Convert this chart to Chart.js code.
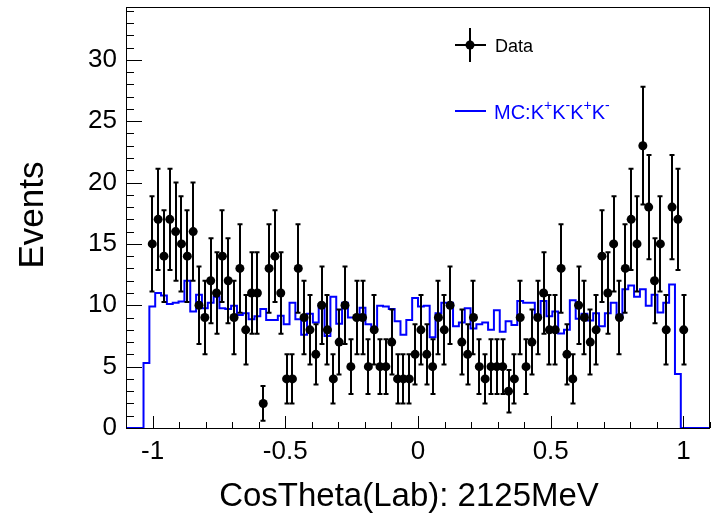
<!DOCTYPE html>
<html><head><meta charset="utf-8">
<script src="https://cdn.jsdelivr.net/npm/chart.js@4/dist/chart.umd.min.js"></script>
<style>html,body{margin:0;padding:0;background:#fff;}</style>
</head><body>
<canvas id="c" width="715" height="516"></canvas>
<script>
// ---- histogram definition ----
const binLow = -1.1, binHigh = 1.1, nBins = 100;
// data counts per bin (bins 0..99)
const dataCounts = [
 0,0,0,0,
 15,17,14,17,16,15,14,16,10,9,12,11,14,12,9,13,
 8,11,11,2,13,14,11,4,4,13,9,8,6,10,8,4,
 7,10,5,9,9,5,8,5,5,7,4,4,4,6,8,6,
 5,9,8,10,0,7,6,9,5,4,5,5,5,3,4,9,
 5,7,9,11,8,8,13,6,4,10,9,7,8,14,11,15,
 9,13,17,15,23,18,12,15,8,18,17,8,
 0,0,0,0
];
// MC K+K-K+K- per bin (bins 0..99)
const mcCounts = [
 0,0,0,0,
 5.3,9.9,11.0,10.8,10.1,10.2,10.3,12.0,9.5,10.85,9.75,10.2,10.7,9.75,9.7,9.95,
 9.2,9.35,8.85,9.1,9.7,8.8,8.8,9.15,8.45,10.2,8.85,7.6,9.3,8.6,10.1,7.5,
 10.7,8.5,10.2,9.0,9.0,9.8,8.45,8.2,9.95,9.9,9.7,8.7,7.6,8.8,10.6,9.9,
 9.95,7.4,9.35,10.2,10.2,8.3,8.6,9.75,8.1,8.45,8.6,8.0,9.6,7.85,8.7,8.4,
 10.35,10.2,10.2,9.0,10.35,9.1,9.5,7.7,8.0,10.4,8.9,9.3,8.75,9.35,8.3,9.35,
 10.2,9.0,11.3,11.6,10.7,11.3,9.95,10.85,9.4,10.2,11.7,4.4,
 0,0,0,0
];
const xTickValues = [-1, -0.5, 0, 0.5, 1];
const yTickValues = [0, 5, 10, 15, 20, 25, 30];
const yMax = 34.3;
const xTitle = 'CosTheta(Lab): 2125MeV';
const yTitle = 'Events';
const legendDataLabel = 'Data';
const legendMcParts = [['MC:K',''],['+','sup'],['K',''],['-','sup'],['K',''],['+','sup'],['K',''],['-','sup']];

// ---- derived tables for the library ----
const binW = (binHigh - binLow) / nBins;
const mcPoints = [];
for (let i = 0; i < nBins; i++) mcPoints.push({x: binLow + i * binW, y: mcCounts[i]});
mcPoints.push({x: binHigh, y: 0});
const dataPoints = [];
for (let i = 0; i < nBins; i++) if (dataCounts[i] > 0) dataPoints.push({x: binLow + (i + 0.5) * binW, y: dataCounts[i]});

const FONT = '"Liberation Sans", Arial, Helvetica, sans-serif';

const rootPlugin = {
  id: 'rootStyle',
  beforeDatasetDraw(chart, args) {
    if (args.index !== 1) return;
    const ctx = chart.ctx, xs = chart.scales.x, ys = chart.scales.y;
    ctx.save();
    ctx.strokeStyle = '#000'; ctx.lineWidth = 2;
    dataPoints.forEach(p => {
      const e = Math.sqrt(p.y);
      const px = Math.round(xs.getPixelForValue(p.x));
      const y1 = ys.getPixelForValue(p.y + e), y2 = ys.getPixelForValue(p.y - e);
      ctx.beginPath();
      ctx.moveTo(px, y1); ctx.lineTo(px, y2);
      ctx.moveTo(px - 2.5, y1); ctx.lineTo(px + 2.5, y1);
      ctx.moveTo(px - 2.5, y2); ctx.lineTo(px + 2.5, y2);
      ctx.stroke();
    });
    ctx.restore();
  },
  afterDraw(chart) {
    const ctx = chart.ctx, xs = chart.scales.x, ys = chart.scales.y, a = chart.chartArea;
    ctx.save();
    // frame
    ctx.strokeStyle = '#000'; ctx.lineWidth = 1;
    ctx.strokeRect(Math.round(a.left) + 0.5, Math.round(a.top) + 0.5, Math.round(a.right - a.left) - 1, Math.round(a.bottom - a.top));
    // y ticks (inward)
    ctx.beginPath();
    for (let v = 0; v <= yMax + 1e-9; v += 1) {
      const py = Math.round(ys.getPixelForValue(v)) + 0.5;
      const len = (v % 5 === 0) ? 16 : 8;
      ctx.moveTo(a.left, py); ctx.lineTo(a.left + len, py);
    }
    // x ticks (inward)
    for (let k = -11; k <= 11; k++) {
      const v = k / 10;
      const px = Math.round(xs.getPixelForValue(v)) + 0.5;
      const len = (k % 5 === 0) ? 12 : 6;
      ctx.moveTo(px, a.bottom); ctx.lineTo(px, a.bottom - len);
    }
    ctx.stroke();
    // titles
    ctx.fillStyle = '#000';
    ctx.font = '33px ' + FONT;
    ctx.textAlign = 'center'; ctx.textBaseline = 'alphabetic';
    ctx.fillText(xTitle, 409, 506);
    ctx.save();
    ctx.font = '35px ' + FONT;
    ctx.translate(43, 215); ctx.rotate(-Math.PI / 2);
    ctx.fillText(yTitle, 0, 0);
    ctx.restore();
    // legend: Data
    ctx.lineWidth = 2;
    ctx.beginPath();
    ctx.moveTo(470, 28); ctx.lineTo(470, 62);
    ctx.moveTo(455, 45); ctx.lineTo(486, 45);
    ctx.stroke();
    ctx.beginPath(); ctx.arc(470, 45, 4.5, 0, Math.PI * 2); ctx.fill();
    ctx.font = '18px ' + FONT; ctx.textAlign = 'left'; ctx.textBaseline = 'alphabetic';
    ctx.fillText(legendDataLabel, 495, 52);
    // legend: MC
    ctx.strokeStyle = '#0000ff'; ctx.fillStyle = '#0000ff';
    ctx.beginPath(); ctx.moveTo(455, 111); ctx.lineTo(486, 111); ctx.stroke();
    let x = 494;
    legendMcParts.forEach(([t, kind]) => {
      if (kind === 'sup') { ctx.font = '14px ' + FONT; ctx.fillText(t, x, 110); }
      else { ctx.font = '20px ' + FONT; ctx.fillText(t, x, 119); }
      x += ctx.measureText(t).width;
    });
    ctx.restore();
  }
};

new Chart(document.getElementById('c'), {
  data: {
    datasets: [
      { type: 'line', label: 'MC', data: mcPoints, stepped: 'after', borderColor: '#0000ff', borderWidth: 2,
        pointRadius: 0, fill: false, order: 2, tension: 0 },
      { type: 'scatter', label: 'Data', data: dataPoints, pointRadius: 4.5, pointHoverRadius: 4.5,
        backgroundColor: '#000', borderColor: '#000', borderWidth: 0, order: 1 }
    ]
  },
  options: {
    responsive: false, animation: false, devicePixelRatio: 1,
    layout: { padding: { top: 7, right: 5, left: 0, bottom: 0 } },
    plugins: { legend: { display: false }, tooltip: { enabled: false } },
    scales: {
      x: {
        type: 'linear', min: binLow, max: binHigh,
        afterBuildTicks: s => { s.ticks = xTickValues.map(v => ({ value: v })); },
        afterFit: s => { s.height = 88; s.paddingLeft = 0; s.paddingRight = 0; },
        grid: { display: false, drawTicks: false }, border: { display: false },
        ticks: { color: '#000', font: { family: FONT, size: 26 }, padding: 8, maxRotation: 0,
                 callback: v => String(v) }
      },
      y: {
        type: 'linear', min: 0, max: yMax,
        afterBuildTicks: s => { s.ticks = yTickValues.map(v => ({ value: v })); },
        afterFit: s => { s.width = 126; s.paddingTop = 0; s.paddingBottom = 0; },
        grid: { display: false, drawTicks: false }, border: { display: false },
        ticks: { color: '#000', font: { family: FONT, size: 26 }, padding: 9, callback: v => String(v) }
      }
    }
  },
  plugins: [rootPlugin]
});
</script>
</body></html>
